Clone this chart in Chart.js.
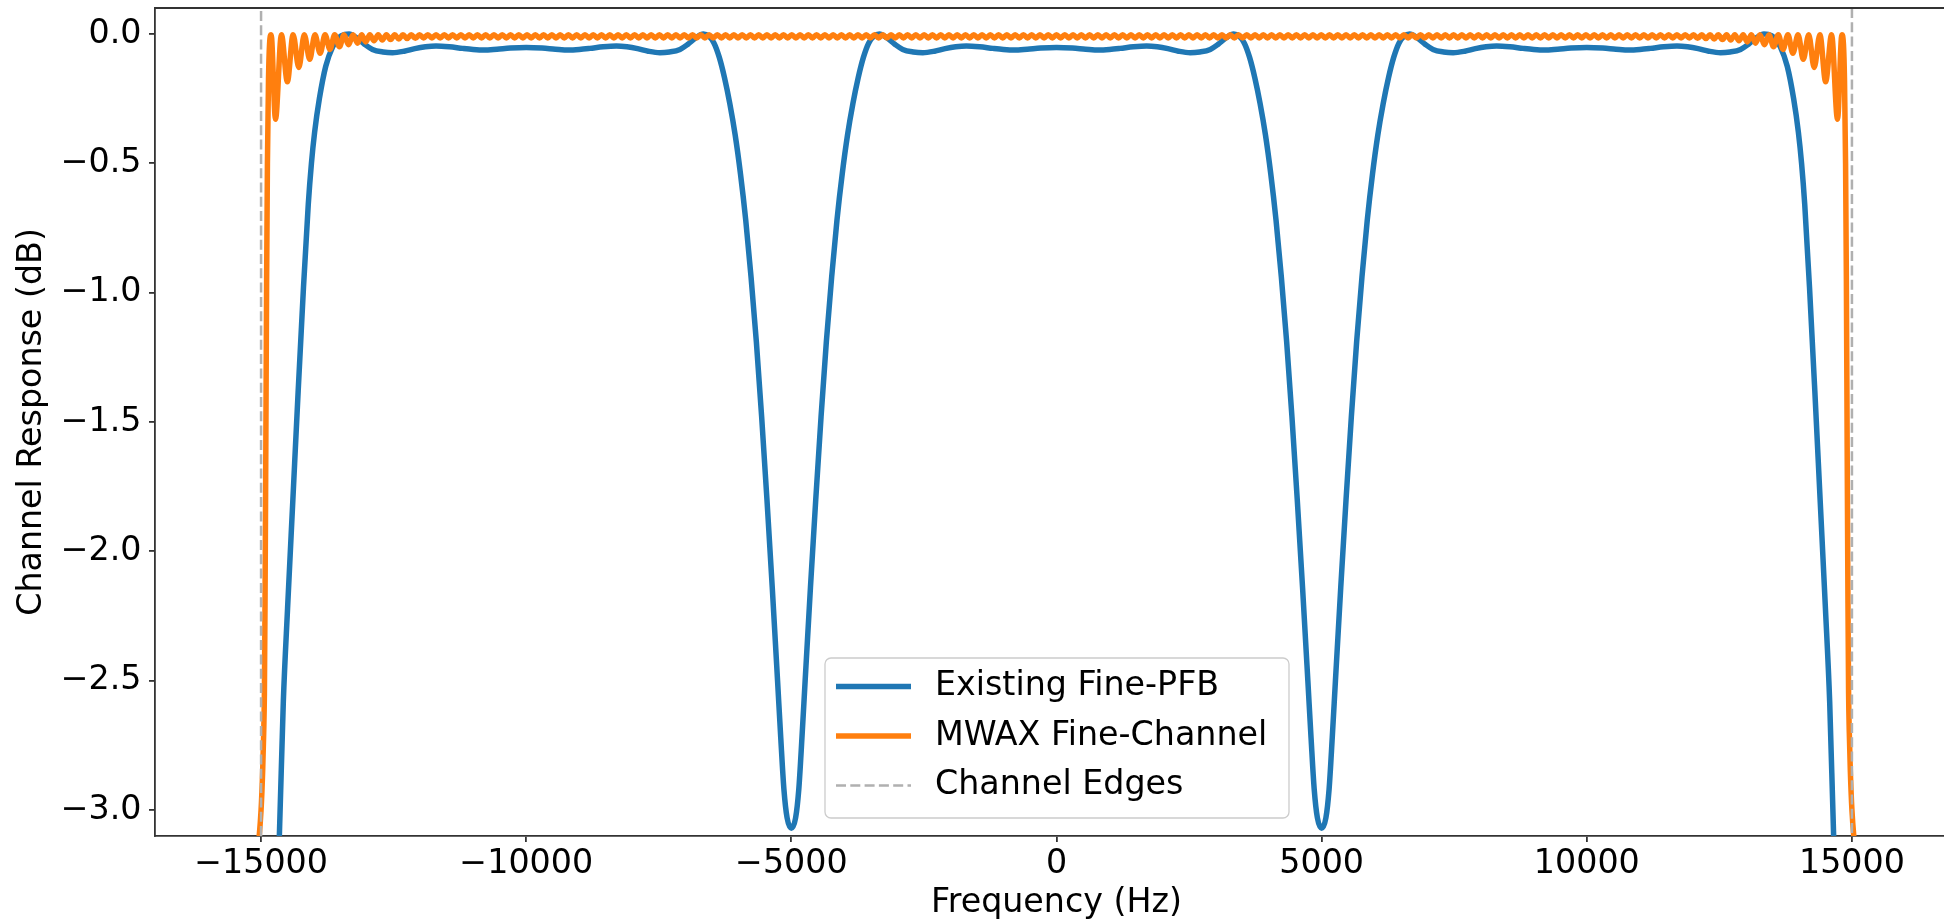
<!DOCTYPE html>
<html>
<head>
<meta charset="utf-8">
<title>Fine channel response</title>
<script src="https://cdn.jsdelivr.net/npm/chart.js@4.4.1/dist/chart.umd.min.js"></script>
<style>
  html, body { margin: 0; padding: 0; overflow: hidden; background: #fff; }
  canvas { display: block; }
</style>
</head>
<body>
<canvas id="myChart" width="1958" height="923"></canvas>
<script>
// axis limits and ticks
var xMin = -17000, xMax = 17000;
var yMin = -3.1, yMax = 0.1;
var xTickValues = [-15000, -10000, -5000, 0, 5000, 10000, 15000];
var yTickValues = [-3.0, -2.5, -2.0, -1.5, -1.0, -0.5, 0.0];

var seriesNames = ['Existing Fine-PFB', 'MWAX Fine-Channel', 'Channel Edges'];

// existing fine PFB, three fine channels (Hz, dB)
var blueFreq = [
  -14720, -14655, -14580, -14500, -14400, -14300, -14200, -14110, -14050, -13990, -13900, -13780, -13650, -13520, -13420,
  -13340, -13200, -13050, -12900, -12700, -12520, -12300, -12100, -11900, -11700, -11450, -11200, -11000, -10800, -10550, -10300,
  -10000, -9700, -9450, -9200, -9000, -8800, -8550, -8300, -8100, -7900, -7700, -7480, -7300, -7100, -6950, -6800,
  -6660, -6560, -6460, -6360, -6260, -6160, -6060, -5960, -5860, -5760, -5660, -5560, -5460, -5360, -5260, -5200, -5140, -5080,
  -5000, -4920, -4860, -4800, -4740, -4640, -4540, -4440, -4340, -4240, -4140, -4040, -3940, -3840, -3740, -3640, -3540, -3440,
  -3340, -3200, -3050, -2900, -2700, -2520, -2300, -2100, -1900, -1700, -1450, -1200, -1000, -800, -550, -300,
  0, 300, 550, 800, 1000, 1200, 1450, 1700, 1900, 2100, 2300, 2520, 2700, 2900, 3050, 3200,
  3340, 3440, 3540, 3640, 3740, 3840, 3940, 4040, 4140, 4240, 4340, 4440, 4540, 4640, 4740, 4800, 4860, 4920,
  5000, 5080, 5140, 5200, 5260, 5360, 5460, 5560, 5660, 5760, 5860, 5960, 6060, 6160, 6260, 6360, 6460, 6560,
  6660, 6800, 6950, 7100, 7300, 7480, 7700, 7900, 8100, 8300, 8550, 8800, 9000, 9200, 9450, 9700,
  10000, 10300, 10550, 10800, 11000, 11200, 11450, 11700, 11900, 12100, 12300, 12520, 12700, 12900, 13050, 13200,
  13340, 13420, 13520, 13650, 13780, 13900, 13990, 14050, 14110, 14200, 14300, 14400, 14500, 14580, 14655, 14720
];
var blueResp = [
  -3.45, -3.10, -2.58, -2.22, -1.80, -1.38, -0.98, -0.66, -0.50, -0.38, -0.25, -0.125, -0.05, -0.012, -0.002,
  0.000, -0.015, -0.040, -0.060, -0.070, -0.073, -0.067, -0.057, -0.050, -0.047, -0.050, -0.056, -0.060, -0.062, -0.059, -0.055,
  -0.053, -0.055, -0.059, -0.062, -0.060, -0.056, -0.050, -0.047, -0.050, -0.057, -0.067, -0.073, -0.070, -0.060, -0.040, -0.015,
  0.000, -0.008, -0.035, -0.09, -0.17, -0.27, -0.39, -0.54, -0.72, -0.94, -1.19, -1.48, -1.80, -2.14, -2.50, -2.72, -2.92, -3.03,
  -3.07, -3.03, -2.92, -2.72, -2.50, -2.14, -1.80, -1.48, -1.19, -0.94, -0.72, -0.54, -0.39, -0.27, -0.17, -0.09, -0.035, -0.008,
  0.000, -0.015, -0.040, -0.060, -0.070, -0.073, -0.067, -0.057, -0.050, -0.047, -0.050, -0.056, -0.060, -0.062, -0.059, -0.055,
  -0.053, -0.055, -0.059, -0.062, -0.060, -0.056, -0.050, -0.047, -0.050, -0.057, -0.067, -0.073, -0.070, -0.060, -0.040, -0.015,
  0.000, -0.008, -0.035, -0.09, -0.17, -0.27, -0.39, -0.54, -0.72, -0.94, -1.19, -1.48, -1.80, -2.14, -2.50, -2.72, -2.92, -3.03,
  -3.07, -3.03, -2.92, -2.72, -2.50, -2.14, -1.80, -1.48, -1.19, -0.94, -0.72, -0.54, -0.39, -0.27, -0.17, -0.09, -0.035, -0.008,
  0.000, -0.015, -0.040, -0.060, -0.070, -0.073, -0.067, -0.057, -0.050, -0.047, -0.050, -0.056, -0.060, -0.062, -0.059, -0.055,
  -0.053, -0.055, -0.059, -0.062, -0.060, -0.056, -0.050, -0.047, -0.050, -0.057, -0.067, -0.073, -0.070, -0.060, -0.040, -0.015,
  0.000, -0.002, -0.012, -0.05, -0.125, -0.25, -0.38, -0.50, -0.66, -0.98, -1.38, -1.80, -2.22, -2.58, -3.10, -3.45
];

// MWAX fine channel: crests and troughs of the ripple (Hz, dB)
var orangeFreq = [
  -15080, -15000, -14970, -14950, -14937, -14925, -14910, -14895, -14880, -14860, -14840, -14810,
  -14728, -14616, -14504, -14396, -14288, -14185, -14082, -13984, -13886, -13793, -13700, -13611, -13522, -13436, -13350, -13266,
  -13182, -13104, -13026, -12948, -12870, -12792, -12714, -12636, -12558, -12480,
  -12402, -12324, -12246, -12168, -12090, -12012, -11934, -11856, -11778, -11700,
  -11622, -11544, -11466, -11388, -11310, -11232, -11154, -11076, -10998, -10920,
  -10842, -10764, -10686, -10608, -10530, -10452, -10374, -10296, -10218, -10140,
  -10062, -9984, -9906, -9828, -9750, -9672, -9594, -9516, -9438, -9360,
  -9282, -9204, -9126, -9048, -8970, -8892, -8814, -8736, -8658, -8580,
  -8502, -8424, -8346, -8268, -8190, -8112, -8034, -7956, -7878, -7800,
  -7722, -7644, -7566, -7488, -7410, -7332, -7254, -7176, -7098, -7020,
  -6942, -6864, -6786, -6708, -6630, -6552, -6474, -6396, -6318, -6240,
  -6162, -6084, -6006, -5928, -5850, -5772, -5694, -5616, -5538, -5460,
  -5382, -5304, -5226, -5148, -5070, -4992, -4914, -4836, -4758, -4680,
  -4602, -4524, -4446, -4368, -4290, -4212, -4134, -4056, -3978, -3900,
  -3822, -3744, -3666, -3588, -3510, -3432, -3354, -3276, -3198, -3120,
  -3042, -2964, -2886, -2808, -2730, -2652, -2574, -2496, -2418, -2340,
  -2262, -2184, -2106, -2028, -1950, -1872, -1794, -1716, -1638, -1560,
  -1482, -1404, -1326, -1248, -1170, -1092, -1014, -936, -858, -780,
  -702, -624, -546, -468, -390, -312, -234, -156, -78,
  0,
  78, 156, 234, 312, 390, 468, 546, 624, 702, 780,
  858, 936, 1014, 1092, 1170, 1248, 1326, 1404, 1482, 1560,
  1638, 1716, 1794, 1872, 1950, 2028, 2106, 2184, 2262, 2340,
  2418, 2496, 2574, 2652, 2730, 2808, 2886, 2964, 3042, 3120,
  3198, 3276, 3354, 3432, 3510, 3588, 3666, 3744, 3822, 3900,
  3978, 4056, 4134, 4212, 4290, 4368, 4446, 4524, 4602, 4680,
  4758, 4836, 4914, 4992, 5070, 5148, 5226, 5304, 5382, 5460,
  5538, 5616, 5694, 5772, 5850, 5928, 6006, 6084, 6162, 6240,
  6318, 6396, 6474, 6552, 6630, 6708, 6786, 6864, 6942, 7020,
  7098, 7176, 7254, 7332, 7410, 7488, 7566, 7644, 7722, 7800,
  7878, 7956, 8034, 8112, 8190, 8268, 8346, 8424, 8502, 8580,
  8658, 8736, 8814, 8892, 8970, 9048, 9126, 9204, 9282, 9360,
  9438, 9516, 9594, 9672, 9750, 9828, 9906, 9984, 10062, 10140,
  10218, 10296, 10374, 10452, 10530, 10608, 10686, 10764, 10842, 10920,
  10998, 11076, 11154, 11232, 11310, 11388, 11466, 11544, 11622, 11700,
  11778, 11856, 11934, 12012, 12090, 12168, 12246, 12324, 12402, 12480,
  12558, 12636, 12714, 12792, 12870, 12948, 13026, 13104, 13182,
  13266, 13350, 13436, 13522, 13611, 13700, 13793, 13886, 13984, 14082, 14185, 14288, 14396, 14504, 14616, 14728,
  14810, 14840, 14860, 14880, 14895, 14910, 14925, 14937, 14950, 14970, 15000, 15080
];
var orangeResp = [
  -3.20, -3.00, -2.85, -2.70, -2.55, -2.20, -1.60, -0.95, -0.50, -0.18, -0.04, -0.003,
  -0.330, -0.003, -0.185, -0.003, -0.130, -0.003, -0.098, -0.003, -0.075, -0.003, -0.060, -0.003, -0.050, -0.003, -0.042, -0.003,
  -0.036, -0.003, -0.031, -0.003, -0.027, -0.003, -0.024, -0.003, -0.022, -0.003, -0.020, -0.003, -0.018, -0.003, -0.017,
  -0.003, -0.016, -0.003, -0.016, -0.003, -0.016, -0.003, -0.016, -0.003, -0.016, -0.003, -0.016, -0.003, -0.016, -0.003, -0.016, -0.003, -0.016, -0.003, -0.016, -0.003, -0.016,
  -0.003, -0.016, -0.003, -0.016, -0.003, -0.016, -0.003, -0.016, -0.003, -0.016, -0.003, -0.016, -0.003, -0.016, -0.003, -0.016, -0.003, -0.016, -0.003, -0.016, -0.003, -0.016,
  -0.003, -0.016, -0.003, -0.016, -0.003, -0.016, -0.003, -0.016, -0.003, -0.016, -0.003, -0.016, -0.003, -0.016, -0.003, -0.016, -0.003, -0.016, -0.003, -0.016, -0.003, -0.016,
  -0.003, -0.016, -0.003, -0.016, -0.003, -0.016, -0.003, -0.016, -0.003, -0.016, -0.003, -0.016, -0.003, -0.016, -0.003, -0.016, -0.003, -0.016, -0.003, -0.016, -0.003, -0.016,
  -0.003, -0.016, -0.003, -0.016, -0.003, -0.016, -0.003, -0.016, -0.003, -0.016, -0.003, -0.016, -0.003, -0.016, -0.003, -0.016, -0.003, -0.016, -0.003, -0.016, -0.003, -0.016,
  -0.003, -0.016, -0.003, -0.016, -0.003, -0.016, -0.003, -0.016, -0.003, -0.016, -0.003, -0.016, -0.003, -0.016, -0.003, -0.016, -0.003, -0.016, -0.003, -0.016, -0.003, -0.016,
  -0.003, -0.016, -0.003, -0.016, -0.003, -0.016, -0.003, -0.016, -0.003, -0.016, -0.003, -0.016, -0.003, -0.016, -0.003, -0.016, -0.003, -0.016, -0.003, -0.016, -0.003, -0.016,
  -0.003, -0.016, -0.003, -0.016, -0.003, -0.016, -0.003, -0.016, -0.003, -0.016, -0.003, -0.016, -0.003, -0.016, -0.003, -0.016, -0.003, -0.016, -0.003, -0.016, -0.003, -0.016,
  -0.003, -0.016, -0.003, -0.016, -0.003, -0.016, -0.003, -0.016, -0.003, -0.016, -0.003, -0.016, -0.003, -0.016, -0.003, -0.016, -0.003, -0.016, -0.003, -0.016, -0.003, -0.016,
  -0.003, -0.016, -0.003, -0.016, -0.003, -0.016, -0.003, -0.016, -0.003, -0.016, -0.003, -0.016, -0.003, -0.016, -0.003, -0.016, -0.003, -0.016, -0.003, -0.016, -0.003, -0.016,
  -0.003, -0.016, -0.003, -0.016, -0.003, -0.016, -0.003, -0.016, -0.003, -0.016, -0.003, -0.016, -0.003, -0.016, -0.003, -0.016, -0.003, -0.016, -0.003, -0.016, -0.003, -0.016,
  -0.003, -0.016, -0.003, -0.016, -0.003, -0.016, -0.003, -0.016, -0.003, -0.016, -0.003, -0.016, -0.003, -0.016, -0.003, -0.016, -0.003, -0.016, -0.003, -0.016, -0.003, -0.016,
  -0.003, -0.016, -0.003, -0.016, -0.003, -0.016, -0.003, -0.016, -0.003, -0.016, -0.003, -0.016, -0.003, -0.016, -0.003, -0.016, -0.003, -0.016, -0.003, -0.016, -0.003, -0.016,
  -0.003, -0.016, -0.003, -0.016, -0.003, -0.016, -0.003, -0.016, -0.003, -0.016, -0.003, -0.016, -0.003, -0.016, -0.003, -0.016, -0.003, -0.016, -0.003, -0.016, -0.003, -0.016,
  -0.003,
  -0.017, -0.003, -0.018, -0.003, -0.020, -0.003, -0.022, -0.003, -0.024, -0.003, -0.027, -0.003, -0.031, -0.003, -0.036,
  -0.003, -0.042, -0.003, -0.050, -0.003, -0.060, -0.003, -0.075, -0.003, -0.098, -0.003, -0.130, -0.003, -0.185, -0.003, -0.330,
  -0.003, -0.04, -0.18, -0.50, -0.95, -1.60, -2.20, -2.55, -2.70, -2.85, -3.00, -3.20
];

// coarse channel edges
var edgeFreq = [-15000, 15000];

function toPoints(xs, ys) {
  var pts = [];
  for (var i = 0; i < xs.length; i++) {
    pts.push({x: xs[i], y: ys[i]});
  }
  return pts;
}

var edgePoints = [
  {x: edgeFreq[0], y: yMin}, {x: edgeFreq[0], y: yMax},
  {x: 0, y: null},
  {x: edgeFreq[1], y: yMax}, {x: edgeFreq[1], y: yMin}
];

function withMinus(v, digits) {
  if (Math.abs(v) < 1e-9) return (0).toFixed(digits);
  var s = Math.abs(v).toFixed(digits);
  return v < 0 ? '\u2212' + s : s;
}

var font = {family: 'DejaVu Sans', size: 33.3, lineHeight: 1.2};
var spineColor = '#333333';

// top spine and the legend box inside the axes
var framePlugin = {
  id: 'frame',
  afterDatasetsDraw: function(chart) {
    var ctx = chart.ctx, a = chart.chartArea;
    ctx.save();
    ctx.strokeStyle = spineColor;
    ctx.lineWidth = 1.8;
    ctx.beginPath();
    ctx.moveTo(a.left, a.top);
    ctx.lineTo(a.right, a.top);
    ctx.stroke();
    ctx.restore();
  },
  afterDraw: function(chart) {
    var ctx = chart.ctx;
    ctx.save();
    ctx.beginPath();
    ctx.roundRect(825, 658, 464, 160, 6);
    ctx.fillStyle = 'rgba(255,255,255,0.8)';
    ctx.fill();
    ctx.strokeStyle = '#cccccc';
    ctx.lineWidth = 1.3;
    ctx.stroke();
    ctx.font = '33.3px "DejaVu Sans"';
    ctx.textBaseline = 'middle';
    chart.data.datasets.forEach(function(ds, i) {
      var y = 686.5 + i * 49.5;
      ctx.beginPath();
      ctx.setLineDash(ds.borderDash || []);
      ctx.strokeStyle = ds.borderColor;
      ctx.lineWidth = ds.borderWidth;
      ctx.moveTo(836, y);
      ctx.lineTo(911, y);
      ctx.stroke();
      ctx.setLineDash([]);
      ctx.fillStyle = '#000';
      ctx.fillText(ds.label, 935, y);
    });
    ctx.restore();
  }
};

var ctx = document.getElementById('myChart');
var myChart = new Chart(ctx, {
  type: 'line',
  data: {
    datasets: [{
      label: seriesNames[0],
      data: toPoints(blueFreq, blueResp),
      borderColor: '#1f77b4',
      borderWidth: 5.5,
      pointRadius: 0,
      cubicInterpolationMode: 'monotone',
      order: 3
    }, {
      label: seriesNames[1],
      data: toPoints(orangeFreq, orangeResp),
      borderColor: '#ff7f0e',
      borderWidth: 5.5,
      pointRadius: 0,
      cubicInterpolationMode: 'monotone',
      order: 2
    }, {
      label: seriesNames[2],
      data: edgePoints,
      borderColor: '#b0b0b0',
      borderWidth: 2.5,
      borderDash: [10, 4.3],
      pointRadius: 0,
      spanGaps: false,
      order: 1
    }]
  },
  options: {
    responsive: false,
    animation: false,
    devicePixelRatio: 1,
    layout: {padding: {top: 8, right: 0, bottom: 0, left: 0}},
    plugins: {
      legend: {display: false},
      tooltip: {enabled: false}
    },
    scales: {
      x: {
        type: 'linear',
        min: xMin,
        max: xMax,
        afterBuildTicks: function(s) {
          s.ticks = xTickValues.map(function(v) { return {value: v}; });
        },
        ticks: {
          autoSkip: false,
          maxRotation: 0,
          padding: 2,
          color: '#000',
          font: font,
          callback: function(v) { return withMinus(v, 0); }
        },
        grid: {drawOnChartArea: false, tickLength: 6, color: spineColor, lineWidth: 1.8},
        border: {color: spineColor, width: 1.8},
        title: {display: true, text: 'Frequency (Hz)', color: '#000', font: font, padding: {top: 0, bottom: 0}},
        afterFit: function(s) { s.height = 87; s.paddingLeft = 0; s.paddingRight = 0; }
      },
      y: {
        min: yMin,
        max: yMax,
        afterBuildTicks: function(s) {
          s.ticks = yTickValues.map(function(v) { return {value: v}; });
        },
        ticks: {
          autoSkip: false,
          padding: 7.5,
          color: '#000',
          font: font,
          callback: function(v) { return withMinus(v, 1); }
        },
        grid: {drawOnChartArea: false, tickLength: 6, color: spineColor, lineWidth: 1.8},
        border: {color: spineColor, width: 1.8},
        title: {display: true, text: 'Channel Response (dB)', color: '#000', font: font, padding: {top: 12, bottom: 0}},
        afterFit: function(s) { s.width = 155; s.paddingTop = 0; s.paddingBottom = 0; }
      }
    }
  },
  plugins: [framePlugin]
});
</script>
</body>
</html>
